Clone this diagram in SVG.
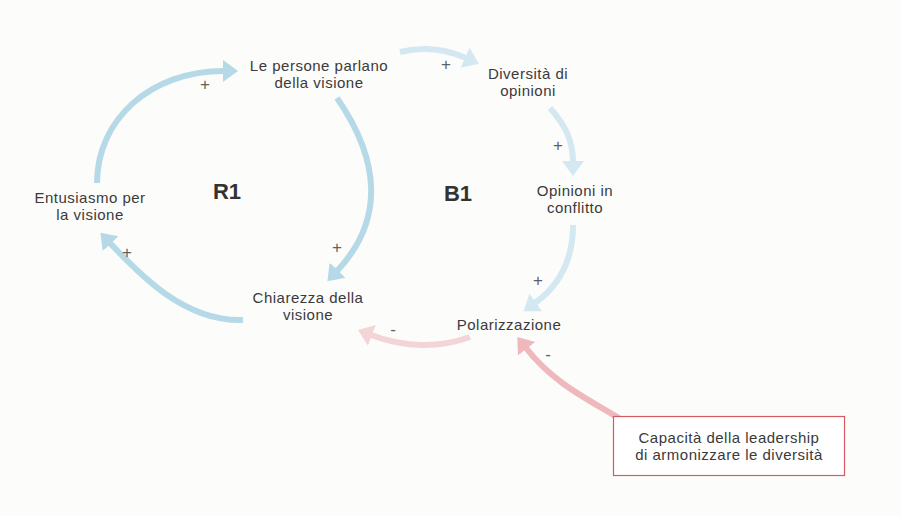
<svg xmlns="http://www.w3.org/2000/svg" width="902" height="516" viewBox="0 0 902 516">
<defs>
<style>
.t{font-family:"Liberation Sans",Arial,sans-serif;font-size:15px;letter-spacing:0.5px;fill:#3a3a3a;text-anchor:middle}
.lbl{font-family:"Liberation Sans",Arial,sans-serif;font-size:17px;fill:#5f5f5f;text-anchor:middle}
.loop{font-family:"Liberation Sans",Arial,sans-serif;font-size:22px;font-weight:bold;fill:#333;text-anchor:middle}
.c{fill:none;stroke-width:6;stroke-linecap:butt}
.b1{stroke:#b6d9e8}
.b2{stroke:#d4e8f1}
.p1{stroke:#f4d5d7}
.p2{stroke:#eeb8bc}
</style>
<marker id="mb1" markerUnits="userSpaceOnUse" markerWidth="16" markerHeight="24" viewBox="0 0 16 24" refX="1" refY="12" orient="auto"><path d="M0,1 L15,12 L0,23 z" fill="#b6d9e8"/></marker>
<marker id="mb2" markerUnits="userSpaceOnUse" markerWidth="16" markerHeight="24" viewBox="0 0 16 24" refX="1" refY="12" orient="auto"><path d="M0,1 L15,12 L0,23 z" fill="#d4e8f1"/></marker>
<marker id="mp1" markerUnits="userSpaceOnUse" markerWidth="16" markerHeight="24" viewBox="0 0 16 24" refX="1" refY="12" orient="auto"><path d="M0,1 L15,12 L0,23 z" fill="#f4d5d7"/></marker>
<marker id="mp2" markerUnits="userSpaceOnUse" markerWidth="16" markerHeight="24" viewBox="0 0 16 24" refX="1" refY="12" orient="auto"><path d="M0,1 L15,12 L0,23 z" fill="#eeb8bc"/></marker>
</defs>
<rect width="902" height="516" fill="#fcfcfb"/>
<g id="connectors">
<path class="c b1" d="M97,183 C97,120 150,71 224,71" marker-end="url(#mb1)"/>
<path class="c b1" d="M337,98 C380,160 385,220 337,271" marker-end="url(#mb1)"/>
<path class="c b1" d="M243,320 C185,322 140,275 110,243" marker-end="url(#mb1)"/>
<path class="c b2" d="M400,52 C425,46 448,50 466,58" marker-end="url(#mb2)"/>
<path class="c b2" d="M550,108 C565,125 573,140 573,162" marker-end="url(#mb2)"/>
<path class="c b2" d="M573,225 C573,260 560,285 535,303" marker-end="url(#mb2)"/>
<path class="c p1" d="M470,337 C440,348 405,348 371,335" marker-end="url(#mp1)"/>
<path class="c p2" d="M622,420 C590,400 555,385 526,348" marker-end="url(#mp2)"/>
<text class="lbl" x="205" y="90">+</text>
<text class="lbl" x="337" y="253">+</text>
<text class="lbl" x="127" y="258">+</text>
<text class="lbl" x="446" y="70">+</text>
<text class="lbl" x="558" y="151">+</text>
<text class="lbl" x="538" y="286">+</text>
<text class="lbl" x="393" y="335">-</text>
<text class="lbl" x="548" y="360">-</text>
</g>
<g id="loops">
<text class="loop" x="227" y="199">R1</text>
<text class="loop" x="458" y="201">B1</text>
</g>
<g id="n-persone"><text class="t" x="319" y="71">Le persone parlano</text><text class="t" x="319" y="88">della visione</text></g>
<g id="n-diversita"><text class="t" x="528" y="79">Diversità di</text><text class="t" x="528" y="96">opinioni</text></g>
<g id="n-conflitto"><text class="t" x="575" y="196">Opinioni in</text><text class="t" x="575" y="213">conflitto</text></g>
<g id="n-polarizzazione"><text class="t" x="509" y="330">Polarizzazione</text></g>
<g id="n-chiarezza"><text class="t" x="308" y="303">Chiarezza della</text><text class="t" x="308" y="320">visione</text></g>
<g id="n-entusiasmo"><text class="t" x="90" y="203">Entusiasmo per</text><text class="t" x="90" y="220">la visione</text></g>
<g id="n-capacita"><rect x="613.5" y="416.5" width="231" height="59" fill="#fff" stroke="#d65a62" stroke-width="1.2"/><text class="t" x="729" y="443">Capacità della leadership</text><text class="t" x="729" y="460">di armonizzare le diversità</text></g>
</svg>
